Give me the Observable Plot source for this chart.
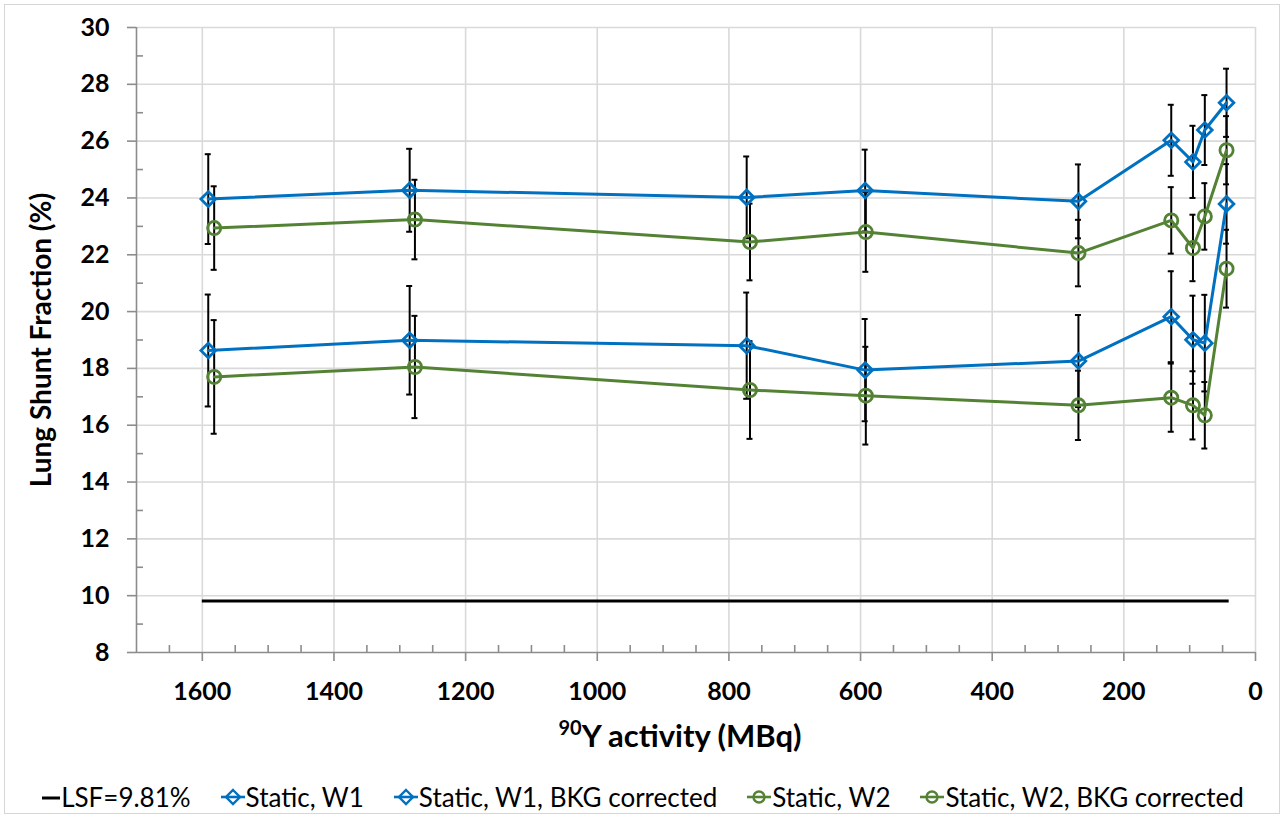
<!DOCTYPE html>
<html><head><meta charset="utf-8">
<script src="https://cdn.jsdelivr.net/npm/d3@7"></script>
<script src="https://cdn.jsdelivr.net/npm/@observablehq/plot@0.6"></script>
<style>
body{margin:0;background:#fff;font-family:Lato,'Open Sans',sans-serif;color:#000;}
#wrap{position:relative;width:1286px;height:820px;overflow:hidden;background:#fff;}
#frame{position:absolute;left:4px;top:4px;width:1276px;height:810px;border:1.5px solid #d6d6d6;box-sizing:border-box;}
#chart{position:absolute;left:0;top:0;}
#xtitle{position:absolute;left:380px;width:600px;top:716px;text-align:center;font-weight:700;font-size:31px;line-height:38px;}
#xtitle sup{font-size:20px;vertical-align:0;position:relative;top:-12px;}
#ytitle{position:absolute;left:40px;top:340px;transform:translate(-50%,-50%) rotate(-90deg);white-space:nowrap;font-weight:700;font-size:28px;}
#legend{position:absolute;left:0;width:1286px;top:781px;display:flex;justify-content:center;gap:30px;font-size:26px;line-height:32px;}
#legend .item{display:flex;align-items:center;white-space:nowrap;}
#legend svg{margin-right:1px;}
</style>
</head><body>
<div id="wrap">
<div id="frame"></div>
<div id="chart"></div>
<div id="xtitle"><sup>90</sup>Y activity (MBq)</div>
<div id="ytitle">Lung Shunt Fraction (%)</div>
<div id="legend"></div>
</div>
<script>
// ---- data ----
const seriesNames = ["Static, W1", "Static, W1, BKG corrected", "Static, W2", "Static, W2, BKG corrected"];
const lsfLabel = "LSF=9.81%";
const lsfValue = 9.81;
const lsfRange = [1600, 40];
const activityW1 = [1591, 1285, 773, 593, 269, 128, 95, 77, 44];
const activityW2 = [1582, 1277, 768, 592, 269, 128, 95, 77, 44];
const w1 = [23.96, 24.27, 24.02, 24.26, 23.88, 26.03, 25.27, 26.39, 27.35];
const w1Err = [1.58, 1.46, 1.44, 1.44, 1.30, 1.25, 1.27, 1.23, 1.20];
const w1Bkg = [18.63, 18.99, 18.80, 17.94, 18.26, 19.82, 19.01, 18.89, 23.79];
const w1BkgErr = [1.97, 1.91, 1.87, 1.80, 1.62, 1.60, 1.55, 1.70, 1.40];
const w2 = [22.94, 23.24, 22.45, 22.80, 22.06, 23.21, 22.24, 23.35, 25.68];
const w2Err = [1.47, 1.40, 1.35, 1.40, 1.17, 1.17, 1.17, 1.17, 1.20];
const w2Bkg = [17.70, 18.05, 17.24, 17.04, 16.70, 16.97, 16.70, 16.35, 21.51];
const w2BkgErr = [2.00, 1.80, 1.72, 1.72, 1.22, 1.20, 1.20, 1.17, 1.37];
const xTicks = [0, 200, 400, 600, 800, 1000, 1200, 1400, 1600];
const yTicks = [8, 10, 12, 14, 16, 18, 20, 22, 24, 26, 28, 30];

// ---- styles ----
const BLUE = "#0070c0", GREEN = "#548235", AXIS = "#8c8c8c", GRID = "#d9d9d9";
const colors = [BLUE, BLUE, GREEN, GREEN];
const symbols = ["diamond2", "diamond2", "circle", "circle"];

const series = [
  [activityW1, w1, w1Err],
  [activityW1, w1Bkg, w1BkgErr],
  [activityW2, w2, w2Err],
  [activityW2, w2Bkg, w2BkgErr]
];
const rows = [];
series.forEach(([xs, ys, es], s) => {
  xs.forEach((x, i) => rows.push({s, name: seriesNames[s], x, y: ys[i], lo: ys[i] - es[i], hi: ys[i] + es[i]}));
});

const minorX = d3.range(50, 1700, 50).filter(d => d % 200 !== 0);
const minorY = d3.range(9, 30, 2);

const marks = [
  Plot.gridX({ticks: xTicks, stroke: GRID, strokeOpacity: 1, strokeWidth: 1.6}),
  Plot.gridY({ticks: yTicks.filter(d => d > 8), stroke: GRID, strokeOpacity: 1, strokeWidth: 1.6}),
  Plot.ruleY([8], {stroke: AXIS, strokeWidth: 1.6}),
  Plot.ruleX([1700], {stroke: AXIS, strokeWidth: 1.6}),
  Plot.ruleX(xTicks, {x: d => d, y1: 8, y2: 8, insetBottom: -9, stroke: AXIS, strokeWidth: 1.6}),
  Plot.ruleX(minorX, {x: d => d, y1: 8, y2: 8, insetTop: -7, stroke: AXIS, strokeWidth: 1.6}),
  Plot.ruleY(yTicks, {y: d => d, x1: 1700, x2: 1700, insetLeft: -9, stroke: AXIS, strokeWidth: 1.6}),
  Plot.ruleY(minorY, {y: d => d, x1: 1700, x2: 1700, insetRight: -7, stroke: AXIS, strokeWidth: 1.6}),
  Plot.axisX({ticks: xTicks, tickFormat: d3.format("d"), tickSize: 0, tickPadding: 30, fontSize: 25, fontWeight: 700, fill: "#000", label: null}),
  Plot.axisY({ticks: yTicks, tickFormat: d3.format("d"), tickSize: 0, tickPadding: 27, fontSize: 25, fontWeight: 700, fill: "#000", label: null}),
  Plot.ruleY([lsfValue], {x1: lsfRange[0], x2: lsfRange[1], stroke: "#000", strokeWidth: 3}),
  Plot.ruleX(rows, {x: "x", y1: "lo", y2: "hi", stroke: "#000", strokeWidth: 2}),
  Plot.ruleY(rows, {y: "lo", x1: "x", x2: "x", insetLeft: -3, insetRight: -3, stroke: "#000", strokeWidth: 2}),
  Plot.ruleY(rows, {y: "hi", x1: "x", x2: "x", insetLeft: -3, insetRight: -3, stroke: "#000", strokeWidth: 2}),
];
[0, 1, 2, 3].forEach(s => {
  const d = rows.filter(r => r.s === s);
  marks.push(Plot.line(d, {x: "x", y: "y", stroke: colors[s], strokeWidth: 3}));
});
[0, 1, 2, 3].forEach(s => {
  const d = rows.filter(r => r.s === s);
  marks.push(Plot.dot(d, {x: "x", y: "y", symbol: symbols[s], r: symbols[s] === "circle" ? 6.6 : 6.6, stroke: colors[s], strokeWidth: 2.8, fill: "none"}));
});

const chart = Plot.plot({
  width: 1286,
  height: 770,
  marginLeft: 136,
  marginRight: 31,
  marginTop: 27,
  marginBottom: 118,
  x: {domain: [1700, 0]},
  y: {domain: [8, 30]},
  style: {fontFamily: "Lato, 'Open Sans', sans-serif", background: "transparent", overflow: "visible"},
  marks
});
document.getElementById("chart").appendChild(chart);

// ---- legend ----
const legend = document.getElementById("legend");
function item(label, svg) {
  const el = document.createElement("span");
  el.className = "item";
  el.innerHTML = svg + "<span>" + label + "</span>";
  legend.appendChild(el);
}
item(lsfLabel, `<svg width="18" height="20"><line x1="0" x2="18" y1="11" y2="11" stroke="#000" stroke-width="3"/></svg>`);
seriesNames.forEach((n, s) => {
  const c = colors[s];
  const m = symbols[s] === "circle"
    ? `<circle cx="12" cy="11" r="5.5" fill="none" stroke="${c}" stroke-width="2.4"/>`
    : `<path d="M12 4 L19 11 L12 18 L5 11 Z" fill="none" stroke="${c}" stroke-width="2.4"/>`;
  item(n, `<svg width="24" height="22"><line x1="0" x2="24" y1="11" y2="11" stroke="${c}" stroke-width="2.6"/>${m}</svg>`);
});
</script>
</body></html>
